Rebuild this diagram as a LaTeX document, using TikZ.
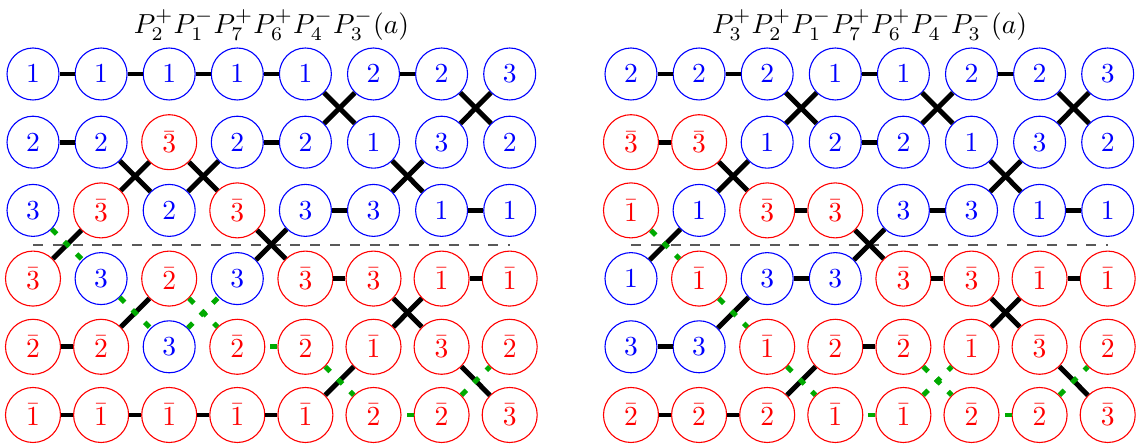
\documentclass[tikz,border=0pt]{standalone}
\definecolor{grn}{RGB}{0,170,0}
\begin{document}
\begin{tikzpicture}[x=0.3636pt,y=-0.3636pt,
  bn/.style={circle,draw=blue,text=blue,line width=0.4pt,minimum size=18.9pt,inner sep=0pt},
  rn/.style={circle,draw=red,text=red,line width=0.4pt,minimum size=20pt,inner sep=0pt},
  bar/.style={line width=1.8pt,draw=black},
  gbar/.style={line width=1.8pt,draw=grn,dash pattern=on 2.5pt off 3.9pt},
  guide/.style={line width=0.5pt,draw=black!65,dash pattern=on 3.6pt off 3.6pt},
  ttl/.style={anchor=base,inner sep=0pt,font=\fontsize{10.35pt}{12pt}\selectfont}]
\useasboundingbox (0,0) rectangle (1139,447);

% titles
\node[ttl] (Lt) at (271.5,33.5) {$P_2^+P_1^-P_7^+P_6^+P_4^-P_3^-(a)$};
\node[ttl] (Rt) at (869.5,33.5) {$P_3^+P_2^+P_1^-P_7^+P_6^+P_4^-P_3^-(a)$};

% guide lines
\coordinate (La) at (33,245);
\coordinate (Lb) at (510,245);
\coordinate (Ra) at (631,245);
\coordinate (Rb) at (1108,245);
\draw[guide] (La) -- (Lb);
\draw[guide] (Ra) -- (Rb);

% left panel nodes
\foreach \rowlist [count=\r] in {
 {bn/1,bn/1,bn/1,bn/1,bn/1,bn/2,bn/2,bn/3},
 {bn/2,bn/2,rn/\bar{3},bn/2,bn/2,bn/1,bn/3,bn/2},
 {bn/3,rn/\bar{3},bn/2,rn/\bar{3},bn/3,bn/3,bn/1,bn/1},
 {rn/\bar{3},bn/3,rn/\bar{2},bn/3,rn/\bar{3},rn/\bar{3},rn/\bar{1},rn/\bar{1}},
 {rn/\bar{2},rn/\bar{2},bn/3,rn/\bar{2},rn/\bar{2},rn/\bar{1},rn/\bar{3},rn/\bar{2}},
 {rn/\bar{1},rn/\bar{1},rn/\bar{1},rn/\bar{1},rn/\bar{1},rn/\bar{2},rn/\bar{2},rn/\bar{3}}}{
  \foreach \st/\v [count=\c] in \rowlist {
    \node[\st] (L-\r-\c) at ({33+68.1*(\c-1)},{74+68.2*(\r-1)}) {$\v$};
  }
}

% right panel nodes
\foreach \rowlist [count=\r] in {
 {bn/2,bn/2,bn/2,bn/1,bn/1,bn/2,bn/2,bn/3},
 {rn/\bar{3},rn/\bar{3},bn/1,bn/2,bn/2,bn/1,bn/3,bn/2},
 {rn/\bar{1},bn/1,rn/\bar{3},rn/\bar{3},bn/3,bn/3,bn/1,bn/1},
 {bn/1,rn/\bar{1},bn/3,bn/3,rn/\bar{3},rn/\bar{3},rn/\bar{1},rn/\bar{1}},
 {bn/3,bn/3,rn/\bar{1},rn/\bar{2},rn/\bar{2},rn/\bar{1},rn/\bar{3},rn/\bar{2}},
 {rn/\bar{2},rn/\bar{2},rn/\bar{2},rn/\bar{1},rn/\bar{1},rn/\bar{2},rn/\bar{2},rn/\bar{3}}}{
  \foreach \st/\v [count=\c] in \rowlist {
    \node[\st] (R-\r-\c) at ({631+68.1*(\c-1)},{74+68.2*(\r-1)}) {$\v$};
  }
}

% left panel black connectors
\foreach \a/\b in {1-1/1-2,1-2/1-3,1-3/1-4,1-4/1-5,1-6/1-7,
  2-1/2-2,2-4/2-5,3-5/3-6,3-7/3-8,4-5/4-6,4-7/4-8,5-1/5-2,
  6-1/6-2,6-2/6-3,6-3/6-4,6-4/6-5,
  1-5/2-6,2-5/1-6,1-7/2-8,2-7/1-8,
  2-2/3-3,3-2/2-3,2-3/3-4,3-3/2-4,2-6/3-7,3-6/2-7,
  3-4/4-5,4-4/3-5,4-6/5-7,5-6/4-7,
  4-1/3-2,5-2/4-3,6-5/5-6,5-7/6-8}
  \draw[bar] (L-\a) -- (L-\b);
% left panel green connectors
\foreach \a/\b in {5-5/5-4,6-7/6-6,3-1/4-2,4-2/5-3,4-3/5-4,5-3/4-4,5-5/6-6,6-7/5-8}
  \draw[gbar] (L-\a) -- (L-\b);

% right panel black connectors
\foreach \a/\b in {1-1/1-2,1-2/1-3,1-4/1-5,1-6/1-7,
  2-1/2-2,2-4/2-5,3-3/3-4,3-5/3-6,3-7/3-8,
  4-3/4-4,4-5/4-6,4-7/4-8,5-1/5-2,5-4/5-5,6-1/6-2,6-2/6-3,
  1-3/2-4,2-3/1-4,1-5/2-6,2-5/1-6,1-7/2-8,2-7/1-8,
  2-2/3-3,3-2/2-3,2-6/3-7,3-6/2-7,
  3-4/4-5,4-4/3-5,4-6/5-7,5-6/4-7,
  4-1/3-2,5-2/4-3,6-3/5-4,5-7/6-8}
  \draw[bar] (R-\a) -- (R-\b);
% right panel green connectors
\foreach \a/\b in {6-5/6-4,6-7/6-6,3-1/4-2,4-2/5-3,5-3/6-4,5-5/6-6,6-5/5-6,6-7/5-8}
  \draw[gbar] (R-\a) -- (R-\b);
\end{tikzpicture}
\end{document}
